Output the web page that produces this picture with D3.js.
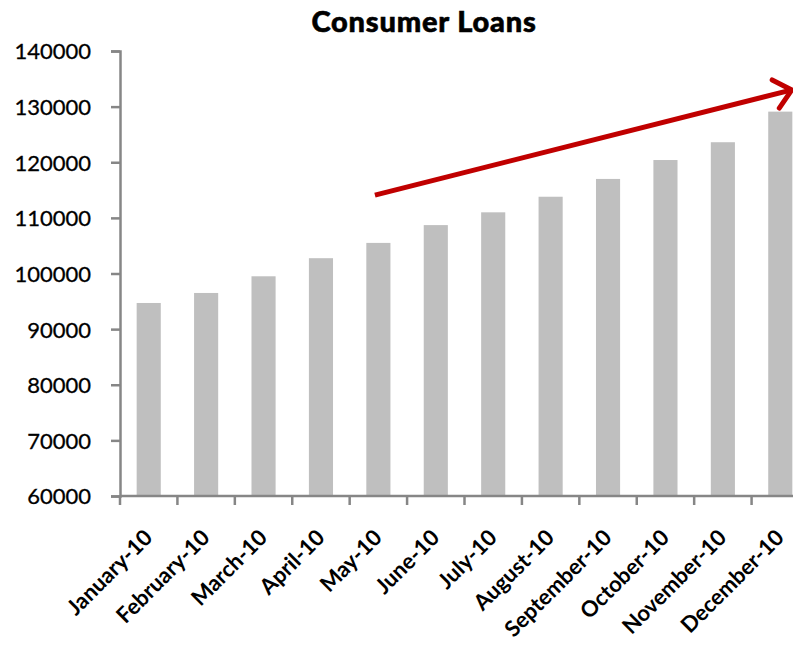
<!DOCTYPE html>
<html><head><meta charset="utf-8">
<script src="https://cdn.jsdelivr.net/npm/d3@7"></script>
<style>html,body{margin:0;padding:0;background:#fff;overflow:hidden}</style>
</head><body>
<svg id="chart" width="793" height="645"></svg>
<script>
const title = "Consumer Loans";
const categories = ["January-10","February-10","March-10","April-10","May-10","June-10","July-10","August-10","September-10","October-10","November-10","December-10"];
const values = [94700, 96500, 99500, 102750, 105500, 108700, 111000, 113800, 117000, 120400, 123600, 129100];
const yTicks = [60000, 70000, 80000, 90000, 100000, 110000, 120000, 130000, 140000];
// trend arrow annotation, in data units (category index, value)
const arrowFrom = [4.44, 114100];
const arrowTo = [11.7, 133000];

const svg = d3.select("#chart");
const mLeft = 120, mRight = 809, mTop = 51, mBottom = 496;

const x = d3.scaleBand().domain(categories).range([mLeft, mRight]).paddingInner(0.58).paddingOuter(0.29);
const xi = d3.scaleLinear().domain([0, categories.length]).range([mLeft, mRight]);
const y = d3.scaleLinear().domain([60000, 140000]).range([mBottom, mTop]);

svg.append("text").attr("x", 424).attr("y", 32).attr("text-anchor", "middle")
  .attr("font-family", "Lato").attr("font-weight", 900).attr("font-size", 29)
  .attr("letter-spacing", 0.8)
  .attr("fill", "#000").attr("stroke", "#000").attr("stroke-width", 0.6).text(title);

// bars
svg.append("g").selectAll("rect").data(values).join("rect")
  .attr("x", (d, i) => x(categories[i])).attr("width", x.bandwidth())
  .attr("y", d => y(d)).attr("height", d => y(60000) - y(d))
  .attr("fill", "#bfbfbf");

// y axis
const ya = svg.append("g").attr("transform", `translate(${mLeft},0)`)
  .call(d3.axisLeft(y).tickValues(yTicks).tickSize(9).tickPadding(20).tickFormat(d3.format("d")));
ya.select(".domain").attr("stroke", "#868686").attr("stroke-width", 2.5);
ya.selectAll(".tick line").attr("stroke", "#868686").attr("stroke-width", 2.5);
ya.selectAll("text").attr("font-family", "Lato").attr("font-size", 22).attr("fill", "#000")
  .attr("stroke", "#000").attr("stroke-width", 0.3).attr("dy", "0.36em");

// x axis
const xa = svg.append("g").attr("transform", `translate(0,${mBottom})`);
xa.append("line").attr("x1", mLeft).attr("x2", mRight).attr("y1", 0).attr("y2", 0)
  .attr("stroke", "#868686").attr("stroke-width", 2.5);
xa.selectAll("line.t").data(d3.range(categories.length + 1)).join("line").attr("class", "t")
  .attr("x1", d => xi(d)).attr("x2", d => xi(d)).attr("y1", 0).attr("y2", 9)
  .attr("stroke", "#868686").attr("stroke-width", 2.5);
xa.selectAll("text").data(categories).join("text")
  .attr("text-anchor", "end")
  .attr("transform", d => `translate(${x(d) + x.bandwidth() / 2 + 5},${43}) rotate(-45)`)
  .attr("font-family", "Lato").attr("font-weight", 700).attr("font-size", 22).attr("fill", "#000")
  .text(d => d);

// arrow
const x1 = xi(arrowFrom[0]), y1 = y(arrowFrom[1]), x2 = xi(arrowTo[0]), y2 = y(arrowTo[1]);
const ang = Math.atan2(y2 - y1, x2 - x1), L = 22, spread = 0.72;
svg.append("line").attr("x1", x1).attr("y1", y1).attr("x2", x2 - 2 * Math.cos(ang)).attr("y2", y2 - 2 * Math.sin(ang))
  .attr("stroke", "#c00000").attr("stroke-width", 5);
svg.append("path")
  .attr("d", `M${x2 - L * Math.cos(ang - spread)},${y2 - L * Math.sin(ang - spread)} L${x2},${y2} L${x2 - L * Math.cos(ang + spread)},${y2 - L * Math.sin(ang + spread)}`)
  .attr("fill", "none").attr("stroke", "#c00000").attr("stroke-width", 5).attr("stroke-linecap", "round").attr("stroke-linejoin", "miter");
</script>
</body></html>
